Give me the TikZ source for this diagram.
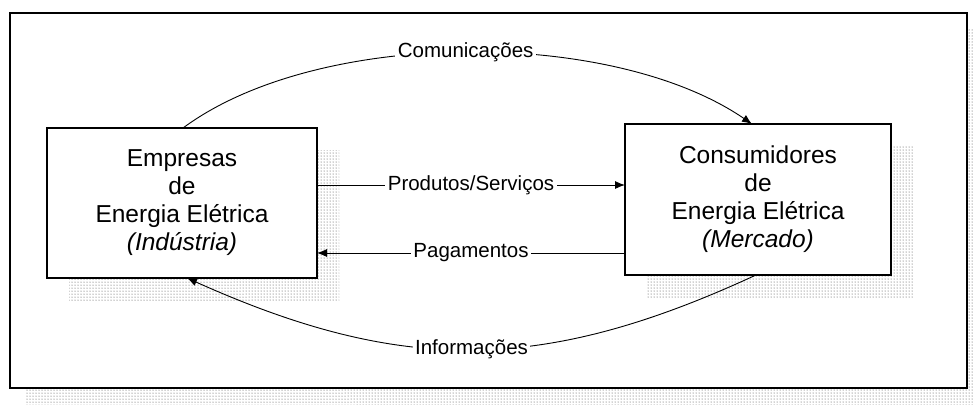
\documentclass[tikz,border=0pt]{standalone}
\usepackage{fontspec}
\setmainfont{Liberation Sans}
\usetikzlibrary{arrows.meta,patterns}
\begin{document}
\begin{tikzpicture}[x=1pt,y=-1pt,
  boxnode/.style={draw,line width=1.2pt,fill=white,inner sep=0pt,outer sep=0pt,
    align=center,font=\fontsize{24.5}{28}\selectfont},
  stipple/.style={pattern=dots,pattern color=black!75},
  arr/.style={line width=0.9pt,-{Latex[length=10pt,width=8pt]}},
  lab/.style={fill=white,inner sep=2.5pt,font=\fontsize{20.5}{24}\selectfont}]
\useasboundingbox (0,0) rectangle (973,408);
% outer frame with its stippled shadow
\fill[stipple] (25,28) rectangle (985,404);
\draw[line width=1.4pt,fill=white] (10,13) rectangle (967,388);
% the two parties
\node[boxnode,minimum width=270pt,minimum height=150pt] (L) at (182,203) {};
\node[boxnode,minimum width=266pt,minimum height=151pt] (R) at (758,199.5) {};
\fill[stipple] ([shift={(22,22)}]L.south west) rectangle ([shift={(22,22)}]L.north east);
\fill[stipple] ([shift={(22,22)}]R.south west) rectangle ([shift={(22,22)}]R.north east);
\node[boxnode,minimum width=270pt,minimum height=150pt] at (L) {Empresas\\de\\Energia Elétrica\\\textit{(Indústria)}};
\node[boxnode,minimum width=266pt,minimum height=151pt] at (R) {Consumidores\\de\\Energia Elétrica\\\textit{(Mercado)}};
% flows between them
\draw[arr] (L.east |- 0,185) -- (R.west |- 0,185) node[midway,lab] {Produtos/Serviços};
\draw[arr] (R.west |- 0,253) -- (L.east |- 0,253) node[midway,lab] {Pagamentos};
\draw[arr] (L.north -| 183,0) .. controls (318,28) and (612,28) .. (R.north -| 752,0)
  node[pos=0.5,lab] {Comunicações};
\draw[arr] (R.south -| 756,0) .. controls (542,374) and (401,374) .. (L.south -| 187,0)
  node[pos=0.5,lab] {Informações};
\end{tikzpicture}
\end{document}
